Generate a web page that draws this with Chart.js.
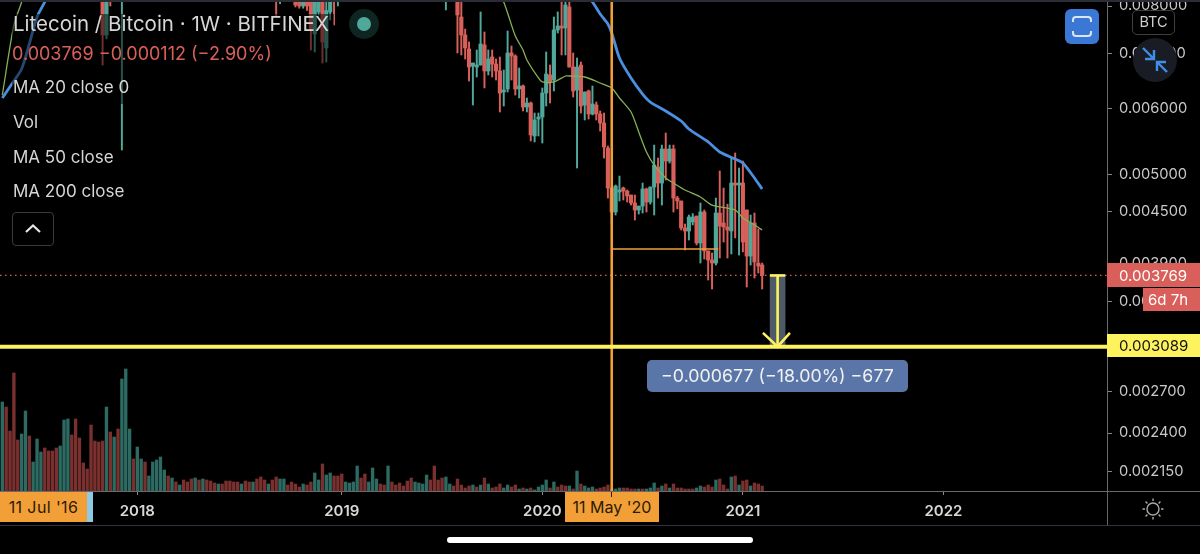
<!DOCTYPE html>
<html><head><meta charset="utf-8">
<script src="https://cdn.jsdelivr.net/npm/chart.js@4"></script>
<style>
html,body{margin:0;padding:0;background:#000;width:1200px;height:554px;overflow:hidden}
body{font-family:Inter,Roboto,sans-serif}
#wrap{position:relative;width:1200px;height:554px}
canvas{position:absolute;left:0;top:0}
.t{position:absolute;white-space:nowrap;line-height:1}
.box{position:absolute;box-sizing:border-box}
</style></head><body>
<div id="wrap">
<canvas id="c" width="1200" height="554"></canvas>
<div class="box" style="left:12px;top:14px;width:322px;height:90px;background:rgba(0,0,0,.5)"></div>
<div class="box" style="left:0;top:0;width:1200px;height:1.5px;background:#2b2b36"></div>
<div class="box" style="left:0;top:525px;width:1200px;height:1px;background:#33323f"></div>
<div class="box" style="left:1107px;top:491px;width:1px;height:34px;background:#666"></div>
<div class="box" style="left:1107px;top:491px;width:93px;height:1px;background:#6a6a6a"></div>

<div class="t" style="left:13px;top:14px;font-size:20.5px;color:#d6d6d6">Litecoin / Bitcoin · 1W · BITFINEX</div>
<div class="box" style="left:349px;top:9px;width:30px;height:30px;border-radius:50%;background:#0f2522"></div>
<div class="box" style="left:357px;top:17px;width:14px;height:14px;border-radius:50%;background:#4fa89a"></div>
<div class="t" style="left:12px;top:45px;font-size:18px;color:#d9605a">0.003769 −0.000112 (−2.90%)</div>
<div class="t" style="left:13px;top:79px;font-size:17px;color:#d6d6d6">MA 20 close 0</div>
<div class="t" style="left:13px;top:114px;font-size:17px;color:#d6d6d6">Vol</div>
<div class="t" style="left:13px;top:149px;font-size:17px;color:#d6d6d6">MA 50 close</div>
<div class="t" style="left:13px;top:183px;font-size:17px;color:#d6d6d6">MA 200 close</div>
<div class="box" style="left:12px;top:212px;width:42px;height:34px;border:1px solid #3a3a3a;border-radius:4px"></div>
<svg class="box" style="left:12px;top:212px" width="42" height="34"><path d="M14 20 L21 13.5 L28 20" fill="none" stroke="#e6e6e6" stroke-width="2.2"/></svg>

<div class="box" style="left:1065px;top:9px;width:34px;height:35px;border-radius:6px;background:#3b78d6"></div>
<svg class="box" style="left:1065px;top:9px" width="34" height="35"><path d="M8 13 V11 a3 3 0 0 1 3-3 H23 a3 3 0 0 1 3 3 V13 M8 22 V24 a3 3 0 0 0 3 3 H23 a3 3 0 0 0 3-3 V22" fill="none" stroke="#d8e6fb" stroke-width="2"/></svg>
<div class="box" style="left:1132px;top:10px;width:43px;height:25px;border-radius:5px;border:1px solid #3f3f3f;background:#000"></div>
<div class="t" style="left:1132px;top:15px;width:43px;text-align:center;font-size:14.5px;color:#cfcfcf">BTC</div>
<div class="box" style="left:1133px;top:38px;width:44px;height:44px;border-radius:50%;background:#1a1c25"></div>
<svg class="box" style="left:1133px;top:38px" width="44" height="44"><g fill="none" stroke="#3f8fe8" stroke-width="2.4"><path d="M10 10 L21 21 M12 21 H21 V12"/><path d="M34 34 L24 24 M33 24 H24 V33"/></g></svg>

<div class="box" style="left:1107px;top:263px;width:93px;height:24px;background:#d9605a"></div>
<div class="t" style="left:1119px;top:268px;font-size:15px;color:#fff">0.003769</div>
<div class="box" style="left:1143px;top:288px;width:57px;height:23px;background:#d9605a"></div>
<div class="t" style="left:1148px;top:292px;font-size:15px;color:#fff">6d 7h</div>
<div class="box" style="left:1107px;top:334px;width:93px;height:23px;background:#fdf35f"></div>
<div class="t" style="left:1119px;top:338px;font-size:15px;color:#111">0.003089</div>
<div class="box" style="left:647px;top:360px;width:261px;height:32px;border-radius:5px;background:#5a76a8"></div>
<div class="t" style="left:647px;top:367px;width:261px;text-align:center;font-size:17.8px;color:#f2f2f2">−0.000677 (−18.00%) −677</div>

<div class="box" style="left:0;top:492px;width:87px;height:30px;background:#f29f38"></div>
<div class="box" style="left:87px;top:492px;width:6px;height:30px;background:#8ecae6"></div>
<div class="t" style="left:0;top:499px;width:87px;text-align:center;font-size:16px;letter-spacing:.4px;color:#2a1a05">11 Jul '16</div>
<div class="box" style="left:565px;top:492px;width:94px;height:30px;background:#f29f38"></div>
<div class="box" style="left:611px;top:492px;width:1px;height:5px;background:#222"></div>
<div class="t" style="left:565px;top:499px;width:94px;text-align:center;font-size:16px;color:#2a1a05">11 May '20</div>
<svg class="box" style="left:1141px;top:497px" width="24" height="24"><g fill="none" stroke="#a9a9a9" stroke-width="1.4"><circle cx="12" cy="12" r="6"/><path d="M12 1.5V4M12 20v2.5M1.5 12H4M20 12h2.5M4.6 4.6l1.8 1.8M17.6 17.6l1.8 1.8M4.6 19.4l1.8-1.8M17.6 6.4l1.8-1.8"/></g></svg>
<div class="box" style="left:447px;top:537px;width:306px;height:6px;border-radius:3px;background:#fff"></div>
</div>
<script>
// Weekly index: week 0 = 1 May 2017, one unit per week.
const yearWeeks=[35,88,140,192,244];
const yearLabels=['2018','2019','2020','2021','2022'];
// Price ticks, in points (1 point = 0.000001 BTC)
const priceTicks=[8000,7000,6000,5000,4500,3900,3500,2722,2427,2182];
const priceTickLabels=['0.008000','0.007000','0.006000','0.005000','0.004500','0.003900','0.003500','0.002700','0.002400','0.002150'];

const candleWeeks=[26,27,28,31,71,72,76,77,78,79,80,81,82,83,84,85,86,87,115,
118,119,120,121,122,123,124,125,126,127,128,129,130,131,132,133,134,135,136,137,
138,139,140,141,142,143,144,145,146,147,148,149,150,151,152,153,154,155,156,157,
158,159,160,161,162,163,164,165,166,167,168,169,170,171,172,173,174,175,176,177,
178,179,180,181,182,183,184,185,186,187,188,189,190,191,192,193,194,195,196,197];
const open=[9000,7378,8700,8500,9000,8400,8500,8400,8000,8300,8100,7400,7868,8200,7115,7868,8400,8100,8300,
8500,7758,7378,7095,6765,6746,6784,7174,6672,6938,6803,6672,6292,6345,7016,6957,6345,6398,6033,6101,
5564,5834,5867,6274,6598,6506,7482,7565,7523,7978,6746,6327,6784,6067,6309,5917,6067,5917,5770,5380,
4811,4500,4758,4811,4771,4718,4614,4525,4575,4798,4627,4825,5102,4879,5365,5188,5365,4679,4640,4303,
4267,4376,4449,4127,4500,4036,3935,3902,4487,4364,4315,4267,4879,4852,4879,4525,3979,4364,3902,3881];
const close=[7378,8800,8100,9200,8400,9000,8022,8000,8300,8000,7500,8100,8200,7235,7900,8300,8100,8500,8700,
7802,7378,7115,6746,6822,6784,7195,6672,6899,6803,6672,6274,6327,7016,6957,6345,6398,6033,6101,5580,
5818,5867,6274,6616,6470,7482,7565,7523,8022,6746,6309,6746,6050,6292,5917,6084,5917,5770,5395,4811,
4500,4838,4785,4771,4705,4614,4525,4575,4798,4627,4825,5130,4879,5365,5188,5365,4679,4640,4303,4267,
4437,4437,4127,4500,4036,3935,3902,4487,4327,4315,4279,4879,4852,4879,4138,3979,4364,3913,3869,3769];
const high=[9600,9200,9000,9500,9400,9400,9000,8800,8600,8500,8300,8400,8400,8400,8300,8500,8600,8700,9000,
8800,8300,7500,7235,6822,7075,7868,7440,7075,7075,6899,6938,6690,7461,7154,6980,6728,6416,6187,6118,
5933,5933,6363,7036,6784,7758,7868,8090,8200,8200,7016,6919,6842,6292,6327,6398,6118,5967,5933,5410,
4811,4852,4975,4825,4785,4718,4718,4575,4879,4811,4825,5425,5232,5425,5611,5425,5425,4700,4640,4351,
4462,4480,4449,4614,4525,4036,4013,4679,5046,4811,4600,5232,5306,5088,5188,4525,4462,4487,4291,3902];
const low=[6784,7300,8000,5350,7758,8050,7978,7950,7950,7900,7075,7036,7800,6822,6842,7694,7587,8000,7912,
7016,6977,6899,6488,6067,6561,6784,6363,6598,6561,6506,5950,6050,6292,6506,6239,6187,5967,5950,5487,
5472,5564,5456,6050,6101,6309,7419,6977,6977,6746,6204,5088,5933,5818,5834,5900,5818,5642,5232,4679,
4364,4462,4640,4653,4627,4588,4400,4474,4487,4500,4600,4462,4679,4588,4920,5159,4500,4540,4279,4047,
4161,4340,4104,3902,3946,3721,3629,3880,3957,4138,3957,4002,4185,3990,4025,3649,3880,3742,3795,3629];

// Weekly volume, arbitrary units
const volume=[89,84,60,118,51,57,80,55,29,52,
39,43,40,40,43,45,71,72,56,72,
53,28,22,66,50,49,50,84,59,54,
62,112,122,62,32,44,32,29,15,29,
31,34,21,15,13,9,6,11,9,12,
13,11,12,11,10,8,7,7,10,10,
9,9,7,10,9,9,12,14,11,7,
11,14,12,12,6,9,7,4,7,6,
9,18,11,27,16,18,15,15,17,9,
8,9,25,13,17,9,23,12,7,6,
25,9,6,8,5,10,13,9,8,7,
16,11,25,11,13,14,7,5,12,6,
3,5,6,4,6,13,7,3,4,7,
3,6,4,6,2,3,2,3,1,4,
6,11,3,9,4,6,5,5,2,20,
7,5,3,4,2,3,4,6,2,2,
3,3,3,2,2,2,2,2,3,8,
3,5,7,3,7,3,3,2,2,2,
3,5,4,6,4,11,12,6,2,14,
15,6,10,11,5,8,7,5];
const volumeDirection=('trrrrttrtt'+'trrrrtttrr'+'rrrrrrrtrt'+'rtttrttrtt'+'tttrtrtrrr'+'trtrrrtrrr'+'rrtrrtrrrt'+'rrttrrrrtr'+'rttrttrrrt'+'tttrrtttrr'+'trrrrrrttt'+'trrrrttrrr'+'rrtrtrtrrr'+'ttrrtrtrtt'+'ttrtrrrtrt'+'rtttrrrrrt'+'trrrrtrttt'+'rtrtrrrrrr'+'ttrrrtrrrt'+'rtrrtrrr').split('');

const maBlueWeeks=[0,3,5,7,9,11,13,150,153,155,157,158,160,163,166,168,172,176,178,183,186,190,192,195,197];
const maBlue=[6187,6488,6709,7195,7758,8090,8500,8400,8090,7824,7608,7419,6919,6543,6256,6118,5967,5802,5674,5472,5320,5218,5159,4948,4798];
const maGreenWeeks=[0,3,5,6,128,130,131,133,135,136,139,140,143,146,147,151,155,158,160,163,165,167,169,172,174,177,181,184,190,192,195,197];
const maGreen=[6239,7587,8090,8500,8500,8090,7846,7357,7075,6880,6543,6470,6470,6579,6579,6561,6452,6363,6187,5950,5627,5320,5130,4948,4879,4785,4692,4588,4525,4424,4339,4279];

const lastClose=3769, targetPrice=3089, supportPrice=4058;
const selectedWeek=158, supportEndWeek=185.6;
const measureWeek=201, measureCapWeeks=[199,203], measureHeadWeeks=[197.2,204.2], measureHeadPrice=3210;
const xMin=-0.6,xMax=286.4,priceMin=2064,priceMax=8090,volumeMax=489;

const RED='#d9605a',TEAL='#4fa89a',VRED='#7a302e',VTEAL='#2c6a62',YEL='#fdf35f',ORG='#f29f38';
const dirColor=candleWeeks.map((w,i)=>close[i]>=open[i]?TEAL:RED);
const line=(pts,color,width,order,extra)=>Object.assign({type:'line',data:pts,borderColor:color,borderWidth:width,pointRadius:0,fill:false,order,yAxisID:'y',xAxisID:'x',tension:0},extra||{});
const xy=(xs,ys)=>xs.map((x,i)=>({x,y:ys[i]}));

new Chart(document.getElementById('c'),{
 type:'bar',
 data:{datasets:[
  {type:'bar',data:volume.map((v,i)=>({x:i,y:v})),yAxisID:'v',xAxisID:'x',grouped:false,barThickness:2.7,
   backgroundColor:volumeDirection.map(d=>d==='t'?VTEAL:VRED),order:20},
  {type:'bar',data:candleWeeks.map((w,i)=>({x:w,y:[low[i],high[i]]})),yAxisID:'y',xAxisID:'x',grouped:false,barThickness:1.3,
   backgroundColor:dirColor,order:11},
  {type:'bar',data:candleWeeks.map((w,i)=>({x:w,y:[Math.min(open[i],close[i]),Math.max(open[i],close[i])]})),yAxisID:'y',xAxisID:'x',grouped:false,barThickness:3.5,minBarLength:1.5,
   backgroundColor:dirColor,order:10},
  line(xy(maGreenWeeks,maGreen),'#86b155',1.3,9,{tension:.25}),
  line(xy(maBlueWeeks,maBlue),'#4a8fe0',2.8,8,{tension:.25}),
  line([{x:xMin,y:lastClose},{x:xMax,y:lastClose}],RED,1.2,7,{borderDash:[1.5,3.5]}),
  line([{x:selectedWeek,y:supportPrice},{x:supportEndWeek,y:supportPrice}],ORG,1.6,6),
  line([{x:selectedWeek,y:priceMax},{x:selectedWeek,y:priceMin}],ORG,2.6,5),
  {type:'bar',data:[{x:measureWeek,y:[targetPrice,lastClose]}],yAxisID:'y',xAxisID:'x',grouped:false,barThickness:15,backgroundColor:'#4e5a68',order:4},
  line([{x:xMin,y:targetPrice},{x:xMax,y:targetPrice}],YEL,4,3),
  line([{x:measureWeek,y:lastClose},{x:measureWeek,y:targetPrice}],YEL,2.6,2),
  line([{x:measureCapWeeks[0],y:lastClose},{x:measureCapWeeks[1],y:lastClose}],YEL,2.6,2),
  line([{x:measureHeadWeeks[0],y:measureHeadPrice},{x:measureWeek,y:targetPrice},{x:measureHeadWeeks[1],y:measureHeadPrice}],YEL,2.6,2)
 ]},
 options:{
  responsive:false,animation:false,
  layout:{padding:{top:2,left:0,right:0,bottom:0}},
  plugins:{legend:{display:false},tooltip:{enabled:false}},
  scales:{
   x:{type:'linear',position:'bottom',min:xMin,max:xMax,offset:false,
    afterBuildTicks:s=>{s.ticks=yearWeeks.map(v=>({value:v}));},
    afterFit:s=>{s.height=63;s.paddingLeft=0;s.paddingRight=0;},
    grid:{display:true,offset:false,drawOnChartArea:false,tickLength:4,tickColor:'#888'},
    border:{display:true,color:'#6a6a6a',width:1},
    ticks:{autoSkip:false,maxRotation:0,padding:7,color:'#d8d8d8',font:{family:'Inter',size:15,weight:'600'},
     callback:(v,i)=>yearLabels[i]}},
   y:{type:'logarithmic',position:'right',min:priceMin,max:priceMax,
    afterBuildTicks:s=>{s.ticks=priceTicks.map(v=>({value:v}));},
    afterFit:s=>{s.width=93;s.paddingTop=0;s.paddingBottom=0;},
    grid:{display:true,drawOnChartArea:false,tickLength:5,tickColor:'#888'},
    border:{display:true,color:'#6a6a6a',width:1},
    ticks:{autoSkip:false,padding:7,color:'#c9c9c9',font:{family:'Inter',size:14.7},
     callback:(v,i)=>priceTickLabels[i]}},
   v:{type:'linear',display:false,min:0,max:volumeMax}
  }
 }
});
</script>
</body></html>
